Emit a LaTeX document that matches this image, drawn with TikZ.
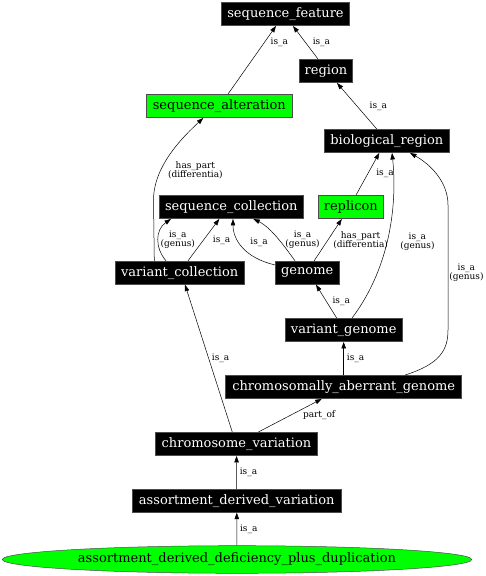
\documentclass[tikz,border=0pt]{standalone}
\usepackage{fontspec}
\setmainfont{DejaVu Serif}
\usetikzlibrary{arrows.meta,shapes.geometric}
\definecolor{termgreen}{HTML}{00FF00}
\tikzset{
	term/.style={draw=black!70, fill=black, text=white, minimum height=23.4, inner sep=0pt, font=\fontsize{13}{14}\selectfont},
	gterm/.style={term, fill=termgreen, text=black},
	lbl/.style={inner sep=1pt, align=center, font=\fontsize{9}{9}\selectfont},
}
\begin{document}
\begin{tikzpicture}[>={Triangle[length=6.5pt,width=4.5pt]},x=1pt,y=-1pt,line width=0.5pt]
	\useasboundingbox (0,0) rectangle (485,576);
	% terms
	\node[term,minimum width=127.6] (sf) at (285.5,14) {sequence\_feature};
	\node[term,minimum width=53.4] (reg) at (326,71) {region};
	\node[gterm,minimum width=145.3] (sa) at (219.3,106) {sequence\_alteration};
	\node[term,minimum width=125] (br) at (386.8,141) {biological\_region};
	\node[term,minimum width=144] (sc) at (231.3,207) {sequence\_collection};
	\node[gterm,minimum width=65] (rep) at (350.8,207) {replicon};
	\node[term,minimum width=129.3] (vc) at (179.7,272.7) {variant\_collection};
	\node[term,minimum width=63.7] (gen) at (307.2,272.7) {genome};
	\node[term,minimum width=116.7] (vg) at (343.7,330) {variant\_genome};
	\node[term,minimum width=236] (cag) at (343.7,387) {chromosomally\_aberrant\_genome};
	\node[term,minimum width=161.6] (cv) at (236.5,444) {chromosome\_variation};
	\node[term,minimum width=208.7] (adv) at (236.7,500.7) {assortment\_derived\_variation};
	\node[ellipse,draw=black!70,fill=termgreen,minimum width=469.4,minimum height=27.6,inner sep=0pt,font=\fontsize{13}{14}\selectfont] (adp) at (237,559.5) {assortment\_derived\_deficiency\_plus\_duplication};
	% relations
	\draw[->] ([xshift=8.7]sa.north) -- node[lbl,pos=.76,right=5pt]{is\_a} ([xshift=-9.5]sf.south);
	\draw[->] ([xshift=-8]reg.north) -- node[lbl,pos=.52,right=6.5pt]{is\_a} ([xshift=7.5]sf.south);
	\draw[->] ([xshift=-10]br.north) -- node[lbl,pos=.5,right=11.5pt]{is\_a} ([xshift=11]reg.south);
	\draw[->] ([xshift=5.2]rep.north) -- node[lbl,pos=.52,right=7pt]{is\_a} ([xshift=-7.5]br.south);
	\draw[->] ([xshift=8.3]vg.north) .. controls (392,265) and (397,200) .. node[lbl,pos=.45,right=12pt]{is\_a\\(genus)} ([xshift=5.2]br.south);
	\draw[->] ([xshift=61.3]cag.north) .. controls (440,364) and (448,350) .. (448,330) -- node[lbl,pos=.456,right=0pt]{is\_a\\(genus)} (448,205) .. controls (448,180) and (428,163) .. ([xshift=23.2]br.south);
	\draw[->] ([xshift=-25.4]vc.north) -- (153.5,200) .. controls (153.5,165) and (185,135) .. node[lbl,pos=.3,right=6pt]{has\_part\\(differentia)} ([xshift=-16]sa.south);
	\draw[->] ([xshift=-13.7]vc.north) .. controls (155,248) and (155,230) .. node[lbl,pos=.5,right=1pt]{is\_a\\(genus)} ([xshift=-60.3]sc.south);
	\draw[->] ([xshift=8.3]vc.north) -- node[lbl,pos=.5,right=8pt]{is\_a} ([xshift=-12]sc.south);
	\draw[->] ([yshift=7.7]gen.west) .. controls (245,258) and (233,240) .. node[lbl,pos=.6,right=10pt]{is\_a} ([xshift=1.7]sc.south);
	\draw[->] ([xshift=-12.2]gen.north) .. controls (287,250) and (272,228) .. node[lbl,pos=.5,right=6pt]{is\_a\\(genus)} ([xshift=22]sc.south);
	\draw[->] ([xshift=7]gen.north) -- node[lbl,pos=.5,right=4pt]{has\_part\\(differentia)} ([xshift=-9]rep.south);
	\draw[->] ([xshift=-7]vg.north) -- node[lbl,pos=.5,right=5pt]{is\_a} ([xshift=8.8]gen.south);
	\draw[->] (cag) -- node[lbl,right=2pt]{is\_a} (vg);
	\draw[->] ([xshift=-4.2]cv.north) -- node[lbl,pos=.5,right=2pt]{is\_a} ([xshift=5.3]vc.south);
	\draw[->] ([xshift=21.8]cv.north) -- node[lbl,pos=.52,right=10.5pt]{part\_of} ([xshift=-22]cag.south);
	\draw[->] (adv) -- node[lbl,right=2pt]{is\_a} (cv);
	\draw[->] (adp) -- node[lbl,right=2pt]{is\_a} (adv);
\end{tikzpicture}
\end{document}
